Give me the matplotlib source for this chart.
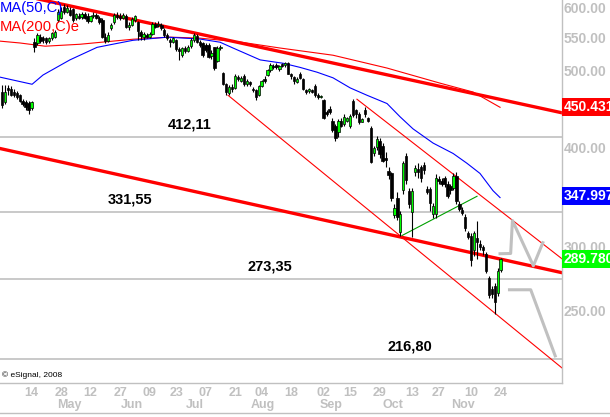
import matplotlib
matplotlib.use("Agg")
import matplotlib.pyplot as plt
from matplotlib.lines import Line2D
from matplotlib.ticker import NullLocator, NullFormatter

plt.rcParams['font.family'] = ['Liberation Sans', 'DejaVu Sans']

# daily candles (bar index 0..169)
opens = [469, 456, 475, 473, 470, 468, 465, 457, 456, 455, 448,
         542, 541, 551, 549, 548, 544, 548, 550, 578, 582, 600, 592, 595, 597, 581, 585, 583, 588, 585,
         577, 584, 586, 582, 578, 550, 544, 564, 574, 586, 584, 582, 585, 566, 570, 578, 575, 558, 550, 553,
         551, 555, 572, 569, 570, 562, 554, 546, 543, 545, 531, 522, 533, 529, 536, 545, 552, 542, 540, 538,
         537, 521, 534, 514, 533, 496, 480, 468, 476, 475, 490, 485, 492, 481, 483, 474, 472, 466, 478, 488,
         493, 500, 506, 508, 501, 509, 507, 510, 494, 490, 483, 494, 487, 472, 471, 472, 478, 466, 463, 459,
         443, 447, 432, 425, 418, 432, 428, 432, 425, 458, 445, 440, 431, 446, 435, 423, 393, 400, 408, 402,
         388, 374, 371, 329, 346, 313, 354, 390, 353, 332, 372, 376, 378, 380, 355, 355, 330, 330, 365, 363,
         366, 360, 358, 356, 368, 340, 334, 327, 312, 310, 297, 308, 303, 300, 294, 274, 266, 268, 263, 281]
highs = [479, 479, 479, 477, 474, 471, 467, 460, 459, 458, 458,
         548, 556, 555, 552, 551, 550, 559, 561, 596, 600, 605, 603, 600, 599, 590, 589, 591, 592, 590,
         587, 591, 590, 585, 581, 557, 558, 573, 589, 591, 589, 590, 588, 574, 583, 587, 577, 561, 558, 556,
         558, 574, 575, 576, 573, 564, 557, 549, 550, 547, 534, 535, 536, 537, 548, 556, 555, 545, 543, 540,
         541, 530, 535, 536, 538, 498, 482, 479, 480, 494, 493, 492, 494, 487, 485, 476, 474, 479, 486, 492,
         502, 510, 509, 510, 508, 511, 512, 512, 496, 492, 490, 497, 489, 474, 475, 474, 480, 468, 466, 460,
         445, 451, 436, 428, 434, 435, 440, 437, 440, 460, 447, 443, 436, 449, 437, 425, 402, 413, 411, 405,
         395, 378, 373, 340, 352, 333, 385, 394, 356, 356, 380, 382, 380, 384, 358, 357, 341, 370, 368, 366,
         368, 363, 360, 371, 372, 343, 337, 330, 314, 312, 314, 323, 306, 302, 296, 276, 268, 270, 282, 290.5]
lows = [448, 454, 465, 464, 462, 460, 456, 451, 446, 441, 446,
        527, 538, 540, 541, 539, 541, 546, 548, 575, 579, 588, 589, 584, 575, 578, 579, 580, 579, 573,
        574, 581, 579, 571, 548, 540, 542, 561, 572, 579, 578, 579, 564, 562, 568, 575, 545, 545, 546, 548,
        548, 553, 565, 566, 562, 550, 545, 534, 540, 529, 515, 519, 525, 527, 533, 543, 540, 535, 519, 527,
        518, 517, 500, 512, 530, 479, 466, 465, 469, 473, 484, 483, 478, 478, 477, 470, 459, 464, 476, 482,
        491, 497, 502, 502, 499, 504, 505, 494, 488, 481, 482, 487, 472, 467, 468, 468, 462, 460, 461, 434,
        438, 440, 418, 408, 412, 424, 426, 430, 423, 437, 436, 428, 430, 437, 430, 382, 390, 397, 388, 383,
        378, 365, 343, 326, 324, 310, 350, 360, 336, 309, 368, 366, 362, 370, 350, 333, 326, 326, 360, 358,
        357, 346, 350, 354, 340, 333, 329, 314, 307, 284, 292, 290, 297, 293, 278, 259, 259, 247, 260, 279]
closes = [452, 469, 472, 466, 465, 462, 458, 453, 449, 446, 456,
          534, 553, 544, 545, 542, 548, 557, 558, 591, 594, 591, 598, 586, 578, 588, 582, 588, 581, 576,
          584, 587, 582, 574, 550, 544, 554, 569, 586, 583, 581, 586, 566, 570, 580, 584, 560, 552, 555, 551,
          555, 571, 567, 572, 565, 553, 548, 543, 548, 532, 529, 533, 528, 534, 546, 553, 543, 538, 522, 530,
          520, 525, 503, 533, 535, 480, 470, 476, 473, 491, 487, 489, 480, 484, 480, 472, 462, 477, 484, 485,
          500, 507, 505, 504, 506, 506, 510, 495, 491, 484, 487, 489, 474, 470, 473, 470, 465, 463, 464, 436,
          440, 443, 420, 411, 432, 426, 437, 435, 438, 439, 440, 430, 434, 440, 432, 384, 399, 410, 392, 385,
          386, 369, 346, 336, 327, 330, 382, 364, 340, 353, 377, 372, 366, 375, 352, 341, 338, 366, 363, 360,
          360, 348, 354, 368, 343, 335, 331, 317, 309, 289, 312, 304, 300, 297, 280, 261, 262, 256, 280, 289.78]

# moving averages, sampled along the drawn curves
ma50_x = [-0.7, 10.2, 13.9, 23, 32.2, 36.6, 44.4, 55.9, 67.1, 73.9, 78.3, 87.5, 95.3, 101,
          106.8, 112.2, 118, 123.7, 130.5, 134.9, 139.3, 146.1, 152.9, 157.6, 162, 166.4, 168.8]
ma50_y = [490, 480, 493, 515, 534, 538, 545, 550, 547, 542, 533, 515, 510, 504,
          497, 489, 475, 465, 454, 437, 422, 405, 393, 382, 371, 353, 346]
ma200_x = [-0.7, 6.1, 14.6, 26.4, 44.4, 56.9, 67.1, 80.7, 94.2, 112.2, 130.5, 148.5, 159.7, 168.8]
ma200_y = [543.7, 540.8, 535.8, 538.8, 546.7, 550, 548.4, 542.3, 533, 522, 503, 481.5, 469.3, 449.1]

# support / resistance levels
levels = [412.11, 331.55, 273.35, 216.80]
level_labels = ['412,11', '331,55', '273,35', '216,80']
level_label_x = [63.7, 43.4, 90.8, 138.3]

# trend lines (bar index, price)
thick_lines = [([-0.7, 189.8], [629, 442]), ([-0.7, 189.8], [398.7, 278.5])]
thin_lines = [([76.6, 189.8], [465, 211.5]), ([120.3, 189.8], [459.7, 289.9])]
green_line = ([135.6, 161], [310.1, 347.3])
proj_up = ([168.8, 172.4, 173, 180.1, 183.3], [294.2, 294.4, 323.8, 284.1, 303.7])
proj_down = ([172, 179.2, 187.5], [265.1, 265.1, 219.0])

# axis labels
y_ticks = [250, 300, 400, 500, 550, 600]
x_tick_pos = [10, 20, 30, 40, 50, 59, 69, 79, 88, 98, 109, 118, 128, 139, 148, 159, 169]
x_tick_lab = ['14', '28', '12', '27', '09', '23', '07', '21', '04', '18', '02', '15', '29', '13', '27', '10', '24']
month_pos = [23, 44, 65.4, 88.5, 111.5, 132.5, 156.3]
month_lab = ['May', 'Jun', 'Jul', 'Aug', 'Sep', 'Oct', 'Nov']

GRAY = '#c0c0c0'
W, H = 610, 417

fig = plt.figure(figsize=(W / 100, H / 100), dpi=100)
ax = fig.add_axes([0, 34 / H, 562 / W, 383 / H])
ax.set_yscale('log')
ax.set_ylim(202.5, 612.3)
ax.set_xlim(-0.68, 189.8)

for lv, lab, lx in zip(levels, level_labels, level_label_x):
    ax.axhline(lv, color=GRAY, lw=1.2, zorder=1)
    ax.annotate(lab, (lx, lv), xytext=(0, 4), textcoords='offset points',
                ha='center', va='bottom', fontsize=10.5, fontweight='bold', color='black')

for xs, ys in thick_lines:
    ax.plot(xs, ys, color='#ff0000', lw=2.4, zorder=2)
for xs, ys in thin_lines:
    ax.plot(xs, ys, color='#ff0000', lw=0.8, zorder=2)
ax.plot(*green_line, color='#00a000', lw=0.8, zorder=2)
ax.plot(ma200_x, ma200_y, color='#ff0000', lw=0.8, zorder=2)
ax.plot(ma50_x, ma50_y, color='#0000ff', lw=0.8, zorder=2)
ax.plot(*proj_up, color=GRAY, lw=2.2, zorder=2)
ax.plot(*proj_down, color=GRAY, lw=2.2, zorder=2)

idx = list(range(len(closes)))
ax.vlines(idx, lows, highs, color='black', lw=0.8, zorder=3)
for i in idx:
    o, c = opens[i], closes[i]
    lo, hi = min(o, c), max(o, c)
    if hi - lo < 0.8:
        hi = lo + 0.8
    fc = '#00ff00' if c > o else 'black'
    ax.bar(i, hi - lo, bottom=lo, width=0.8, color=fc, edgecolor='black', lw=0.5, zorder=4)

# axes decoration
for s in ['top', 'left']:
    ax.spines[s].set_visible(False)
for s in ['right', 'bottom']:
    ax.spines[s].set_color(GRAY)
    ax.spines[s].set_linewidth(1)

ax.yaxis.tick_right()
ax.yaxis.set_minor_locator(NullLocator())
ax.yaxis.set_minor_formatter(NullFormatter())
ax.set_yticks(y_ticks)
ax.set_yticklabels(['%.2f' % v for v in y_ticks])
ax.tick_params(axis='y', length=0, pad=1, labelsize=10, labelcolor=GRAY)
for t in ax.get_yticklabels():
    t.set_fontweight('bold')

ax.set_xticks(x_tick_pos)
ax.set_xticklabels(x_tick_lab)
ax.tick_params(axis='x', length=0, pad=3, labelsize=9, labelcolor=GRAY)
for t in ax.get_xticklabels():
    t.set_fontweight('bold')
for mp, ml in zip(month_pos, month_lab):
    ax.text(mp, -22 / 383, ml, transform=ax.get_xaxis_transform(), ha='center', va='center',
            fontsize=9, fontweight='bold', color=GRAY, clip_on=False)

fig.add_artist(Line2D([0, 1], [1 - 413 / H] * 2, color=GRAY, lw=1, transform=fig.transFigure))

# legend / credits
fig.text(0, 1 - 8 / H, 'MA(50,C)', color='#0000ff', fontsize=10.6, va='center', ha='left')
fig.text(0, 1 - 27 / H, 'MA(200,C)e', color='#ff0000', fontsize=10.6, va='center', ha='left')
fig.text(2 / W, 1 - 375 / H, '\u00a9 eSignal, 2008', fontsize=6, va='center', ha='left')

# value boxes on the price scale
for val, y, col in [('450.431', 107, '#ff0000'), ('347.997', 196, '#0000ff'), ('289.780', 259, '#00ff00')]:
    fig.text(564 / W, 1 - y / H, val, color='white', fontsize=10, fontweight='bold', va='center', ha='left',
             bbox=dict(boxstyle='square,pad=0.12', facecolor=col, edgecolor='none'))

fig.savefig('out.png', dpi=100)
